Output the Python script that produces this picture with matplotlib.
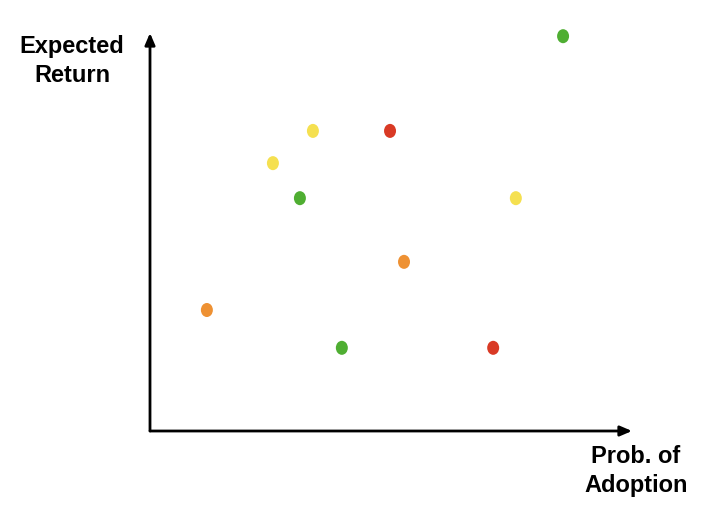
import matplotlib.pyplot as plt
from matplotlib.path import Path
from matplotlib.transforms import Affine2D

# prob. of adoption (x) and expected return (y), arbitrary 0-100 units
prob_adoption = [85.7, 33.8, 49.8, 25.5, 31.1, 75.9, 52.7, 11.8, 39.8, 71.2]
expected_return = [99.2, 75.4, 75.4, 67.3, 58.5, 58.5, 42.5, 30.4, 20.9, 20.9]
point_colors = ['green', 'yellow', 'red', 'yellow', 'green', 'yellow',
                'orange', 'orange', 'green', 'red']

palette = {'green': '#4fae32', 'yellow': '#f5e050',
           'red': '#d93a25', 'orange': '#ee9133'}

plt.rcParams['font.family'] = ['Liberation Sans', 'DejaVu Sans']

fig = plt.figure(figsize=(7.11, 5.07), dpi=100)
ax = fig.add_axes([150 / 711, 76 / 507, 482 / 711, 398 / 507])
ax.set_xlim(0, 100)
ax.set_ylim(0, 100)
ax.axis('off')

# slightly tall ellipse marker
oval = Path.unit_circle().transformed(Affine2D().scale(1, 1.17))

ax.scatter(prob_adoption, expected_return, s=102, marker=oval,
           c=[palette[c] for c in point_colors], linewidths=0, zorder=3,
           clip_on=False)

# axis arrows
arrow = dict(arrowstyle='-|>,head_length=0.7,head_width=0.3', color='black',
             lw=2, shrinkA=0, shrinkB=0)
ax.annotate('', xy=(1, 0), xytext=(0, 0), xycoords='axes fraction',
            arrowprops=arrow, annotation_clip=False)
ax.annotate('', xy=(0, 1), xytext=(0, 0), xycoords='axes fraction',
            arrowprops=arrow, annotation_clip=False)

fig.text(72 / 711, 1 - 61 / 507, 'Expected\nReturn', ha='center', va='center',
         fontsize=17, fontweight='bold', linespacing=1.28)
fig.text(636 / 711, 1 - 471 / 507, 'Prob. of\nAdoption', ha='center', va='center',
         fontsize=17, fontweight='bold', linespacing=1.28)

fig.savefig('out.png', dpi=100)
